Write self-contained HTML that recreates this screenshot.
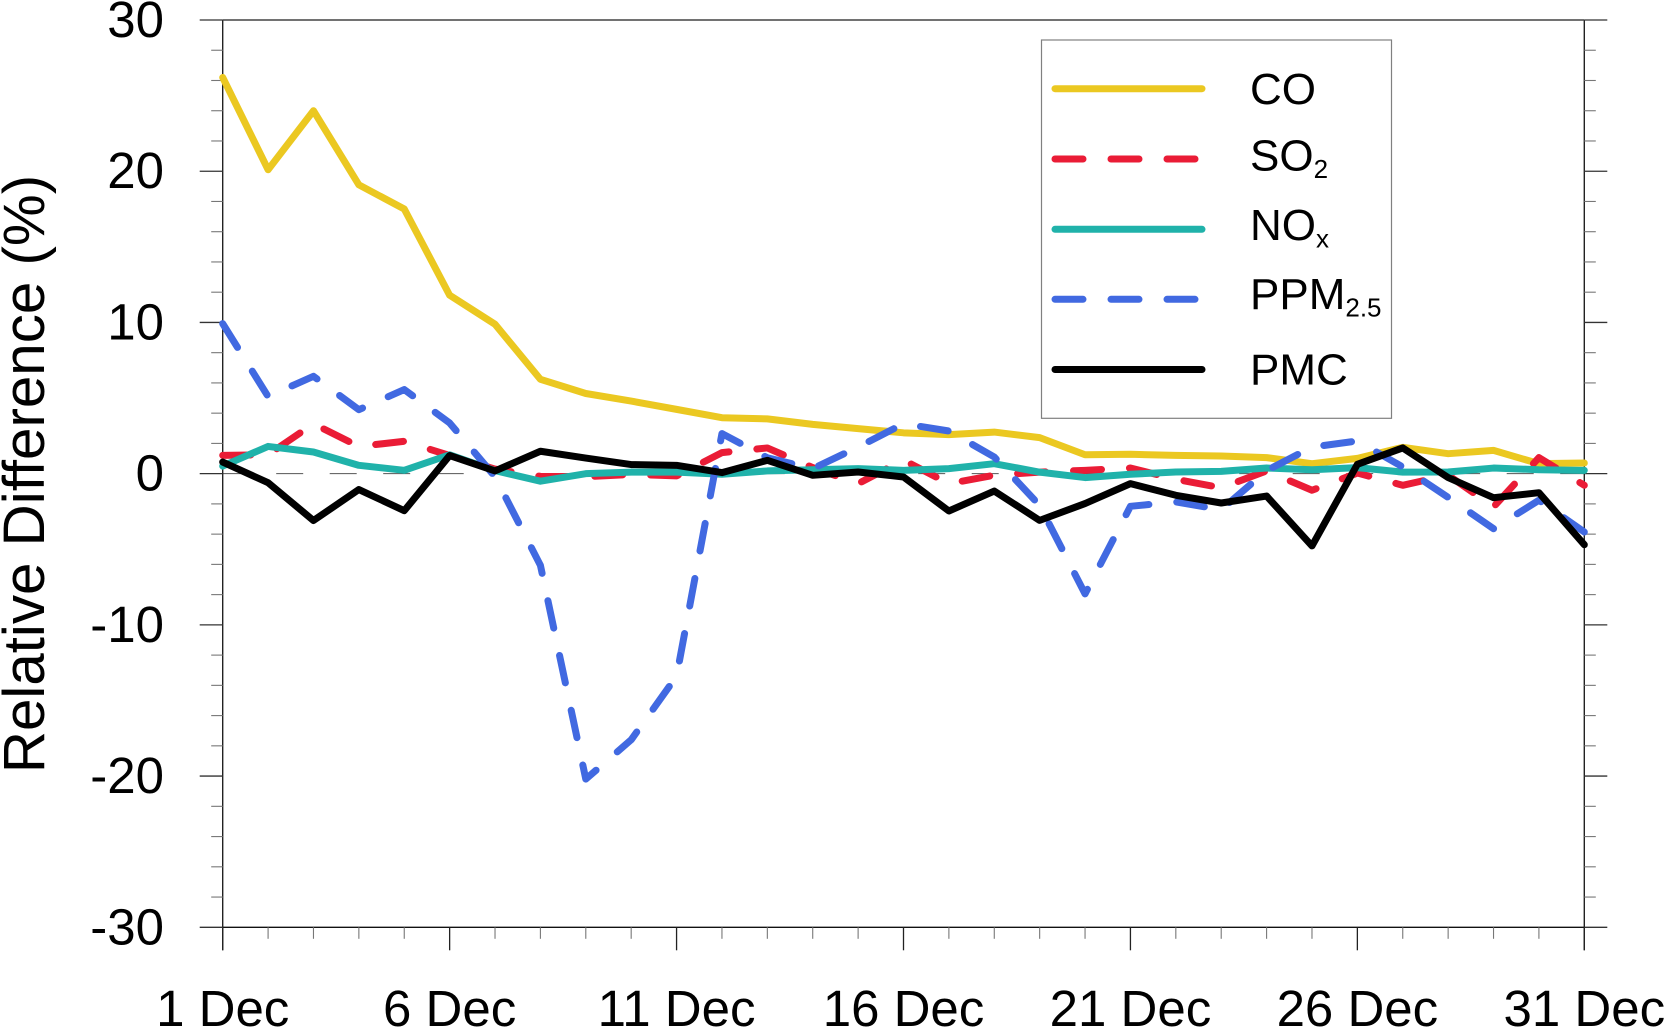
<!DOCTYPE html>
<html lang="en">
<head>
<meta charset="utf-8">
<title>Relative Difference (%)</title>
<style>
html,body{margin:0;padding:0;background:#fff;width:1666px;height:1028px;overflow:hidden}
svg{display:block}
text{font-family:"Liberation Sans",Arial,sans-serif;fill:#000}
</style>
</head>
<body>
<svg id="chart" xmlns="http://www.w3.org/2000/svg" width="1666" height="1028" viewBox="0 0 1666 1028">
  <rect x="0" y="0" width="1666" height="1028" fill="#fff"/>
  <g id="axes"></g>
  <g id="series"></g>
  <text transform="translate(44,474) rotate(-90)" text-anchor="middle" font-size="58.3">Relative Difference (%)</text>
  <g>
    <rect x="1041.5" y="40" width="350" height="378.3" fill="#fff" stroke="#808080" stroke-width="1.2"/>
    <g>
      <line x1="1055" y1="88.7" x2="1202" y2="88.7" stroke="#ebc821" stroke-width="7" stroke-linecap="round"/>
      <text x="1250" y="104" font-size="44">CO</text>
    </g>
    <g>
      <line x1="1055" y1="159" x2="1197" y2="159" stroke="#ea1c36" stroke-width="7" stroke-linecap="round" stroke-dasharray="28 28"/>
      <text x="1250" y="170.5" font-size="44">SO<tspan font-size="26" dy="7.5">2</tspan></text>
    </g>
    <g>
      <line x1="1055" y1="229.3" x2="1202" y2="229.3" stroke="#20b2aa" stroke-width="7" stroke-linecap="round"/>
      <text x="1250" y="240" font-size="44">NO<tspan font-size="26" dy="7.5">x</tspan></text>
    </g>
    <g>
      <line x1="1055" y1="299.3" x2="1197" y2="299.3" stroke="#4169e1" stroke-width="7" stroke-linecap="round" stroke-dasharray="28 28"/>
      <text x="1250" y="309" font-size="44">PPM<tspan font-size="26" dy="7.5">2.5</tspan></text>
    </g>
    <g>
      <line x1="1055" y1="369.5" x2="1202" y2="369.5" stroke="#000" stroke-width="7" stroke-linecap="round"/>
      <text x="1250" y="384.5" font-size="44">PMC</text>
    </g>
  </g>
</svg>
<script>
const days = [1,2,3,4,5,6,7,8,9,10,11,12,13,14,15,16,17,18,19,20,21,22,23,24,25,26,27,28,29,30,31];
const xTickDays = [1,6,11,16,21,26,31];
const xTickLabels = ['1 Dec','6 Dec','11 Dec','16 Dec','21 Dec','26 Dec','31 Dec'];
const yTickValues = [30,20,10,0,-10,-20,-30];
const yTickLabels = ['30','20','10','0','-10','-20','-30'];
const coValues = [26.2,20.1,24,19.1,17.5,11.8,9.88,6.24,5.3,4.8,4.25,3.7,3.62,3.26,2.98,2.7,2.58,2.75,2.38,1.25,1.28,1.21,1.17,1.06,0.66,1.01,1.74,1.32,1.54,0.66,0.7];
const so2Values = [1.21,1.25,3.3,1.8,2.14,1.2,0.3,-0.18,-0.2,-0.05,-0.15,1.39,1.7,0.4,-0.66,0.9,-0.66,-0.1,0.1,0.22,0.37,-0.37,-0.93,0.18,-1.1,0.04,-0.77,-0.1,-2.2,1.06,-0.77];
const noxValues = [0.5,1.8,1.43,0.55,0.22,1.25,0.2,-0.5,0,0.1,0.1,-0.04,0.18,0.26,0.33,0.22,0.33,0.66,0.1,-0.26,-0.04,0.11,0.15,0.37,0.26,0.4,0.1,0.11,0.37,0.26,0.22];
const ppmValues = [9.92,5.1,6.44,4.23,5.56,3.35,-0.2,-6.06,-20.2,-17.6,-13.4,2.65,1.05,0.33,1.76,3.3,2.82,1.1,-2.1,-7.95,-2.16,-1.87,-2.38,0.2,1.76,2.16,0.44,-1.57,-3.64,-1.76,-3.86];
const pmcValues = [0.77,-0.6,-3.1,-1.05,-2.45,1.2,0.18,1.48,1.03,0.6,0.55,0.07,0.88,-0.11,0.11,-0.22,-2.47,-1.15,-3.09,-1.98,-0.66,-1.43,-1.94,-1.48,-4.78,0.62,1.7,-0.26,-1.59,-1.26,-4.7];

const NS = 'http://www.w3.org/2000/svg';
const plotLeft = 222.7, plotRight = 1584.3, plotTop = 20, plotBottom = 927.3;
const dayMin = 1, dayMax = 31, valMin = -30, valMax = 30;
function xScale(d){ return plotLeft + (d - dayMin) / (dayMax - dayMin) * (plotRight - plotLeft); }
function yScale(v){ return plotBottom - (v - valMin) / (valMax - valMin) * (plotBottom - plotTop); }

const axes = document.getElementById('axes');
const seriesGroup = document.getElementById('series');

function makeLine(x1, y1, x2, y2, color, width){
  const l = document.createElementNS(NS, 'line');
  l.setAttribute('x1', x1);
  l.setAttribute('y1', y1);
  l.setAttribute('x2', x2);
  l.setAttribute('y2', y2);
  l.setAttribute('stroke', color);
  l.setAttribute('stroke-width', width);
  axes.appendChild(l);
  return l;
}
function makeLabel(x, y, anchor, str){
  const t = document.createElementNS(NS, 'text');
  t.setAttribute('x', x);
  t.setAttribute('y', y);
  t.setAttribute('text-anchor', anchor);
  t.setAttribute('font-size', '51');
  t.textContent = str;
  axes.appendChild(t);
  return t;
}

// zero reference line
const zeroLine = makeLine(plotLeft, yScale(0), plotRight, yScale(0), '#555', 1);
zeroLine.setAttribute('stroke-dasharray', '27 26.5');



// frame edges
const leftAxis = makeLine(plotLeft, plotTop, plotLeft, plotBottom + 23, '#222', 1.4);


const rightAxis = makeLine(plotRight, plotTop, plotRight, plotBottom + 23, '#222', 1.4);


const topAxis = makeLine(plotLeft, plotTop, plotRight, plotTop, '#444', 1.4);


const bottomAxis = makeLine(plotLeft, plotBottom, plotRight, plotBottom, '#111', 1.4);



// x ticks
days.forEach(function(d){
  if (xTickDays.indexOf(d) >= 0) return;
  const t = makeLine(xScale(d), plotBottom, xScale(d), plotBottom + 11.5, '#777', 1.1);
  
  
});
xTickDays.forEach(function(d, i){
  const t = makeLine(xScale(d), plotBottom, xScale(d), plotBottom + 23, '#222', 1.3);
  
  
  const lab = makeLabel(xScale(d), 1026, 'middle', xTickLabels[i]);
  
  
});

// y ticks
for (let v = valMin; v <= valMax; v += 2) {
  if (v % 10 === 0) continue;
  const a = makeLine(plotLeft - 11.5, yScale(v), plotLeft, yScale(v), '#777', 1.1);
  
  
  const b = makeLine(plotRight, yScale(v), plotRight + 11.5, yScale(v), '#777', 1.1);
  
  
}
yTickValues.forEach(function(v, i){
  const a = makeLine(plotLeft - 23, yScale(v), plotLeft, yScale(v), '#333', 1.3);
  
  
  const b = makeLine(plotRight, yScale(v), plotRight + 23, yScale(v), '#333', 1.3);
  
  
  const lab = makeLabel(164, yScale(v) + 17, 'end', yTickLabels[i]);
  
  
});

// series
function drawSeries(values, color, dashed, name){
  const pts = values.map(function(v, i){ return xScale(days[i]).toFixed(2) + ',' + yScale(v).toFixed(2); }).join(' ');
  const p = document.createElementNS(NS, 'polyline');
  p.setAttribute('points', pts);
  p.setAttribute('fill', 'none');
  p.setAttribute('stroke', color);
  p.setAttribute('stroke-width', '7');
  p.setAttribute('stroke-linecap', 'round');
  p.setAttribute('stroke-linejoin', 'round');
  if (dashed) p.setAttribute('stroke-dasharray', '28 28');
  
  
  seriesGroup.appendChild(p);
}
drawSeries(coValues, '#ebc821', false, 'series-co');
drawSeries(so2Values, '#ea1c36', true, 'series-so2');
drawSeries(noxValues, '#20b2aa', false, 'series-nox');
drawSeries(ppmValues, '#4169e1', true, 'series-ppm25');
drawSeries(pmcValues, '#000000', false, 'series-pmc');
</script>
</body>
</html>
